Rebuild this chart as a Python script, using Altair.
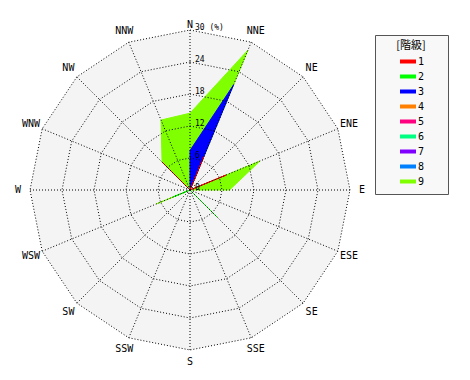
import altair as alt
import pandas as pd

# ---- data -------------------------------------------------------------
directions = ["N", "NNE", "NE", "ENE", "E", "ESE", "SE", "SSE",
              "S", "SSW", "SW", "WSW", "W", "WNW", "NW", "NNW"]
classes = ["1", "2", "3", "4", "5", "6", "7", "8", "9"]
colors = ["#ff0000", "#00ff00", "#0000ff", "#ff8000", "#ff0080",
          "#00ff80", "#8000ff", "#0080ff", "#80ff00"]

#            N    NNE  NE  ENE   E   ESE  SE  SSE  S  SSW  SW  WSW  W  WNW  NW   NNW
class1 = [0.0, 6.8, 0, 7.3, 0.0, 0, 0.0, 0, 0, 0, 0, 0.0, 0, 0, 7.4, 0.0]
class2 = [0.0, 0.0, 0, 0.0, 0.0, 0, 7.2, 0, 0, 0, 0, 3.4, 0, 0, 0.0, 0.0]
class3 = [7.4, 21.3, 0, 0.0, 0.0, 0, 0.0, 0, 0, 0, 0, 0.0, 0, 0, 0.0, 0.0]
class4 = [0.0] * 16
class5 = [0.0] * 16
class6 = [0.0] * 16
class7 = [0.0] * 16
class8 = [0.0] * 16
class9 = [14.4, 28.4, 0, 14.2, 7.4, 0, 7.2, 0, 0, 0, 0, 6.8, 0, 0, 7.4, 14.2]
series = [class1, class2, class3, class4, class5, class6, class7, class8, class9]

rings = [6, 12, 18, 24, 30]
ring_values = [0, 6, 12, 18, 24, 30]
ring_labels = ["0", "6", "12", "18", "24", "30 (%)"]
label_radius = 32.25

# ---- tables -----------------------------------------------------------
rows = []
for c, vals in zip(classes, series):
    for i, v in enumerate(vals):
        rows.append({"cls": c, "idx": i, "v": v})
poly_df = pd.DataFrame(rows)

ring_df = pd.DataFrame([{"r": r, "idx": i} for r in rings for i in range(16)])
outer_df = pd.DataFrame([{"r": 30, "idx": i} for i in range(16)])
spoke_df = pd.DataFrame([{"idx": i, "r": 30, "zero": 0} for i in range(16)])
dir_df = pd.DataFrame([{"idx": i, "name": d, "r": label_radius}
                       for i, d in enumerate(directions)])
rl_df = pd.DataFrame({"r": ring_values, "label": ring_labels, "zero": 0})

xs = alt.Scale(domain=[-35.625, 52.5], nice=False, zero=False)
ys = alt.Scale(domain=[-35.625, 35.625], nice=False, zero=False)

def polar(chart, field):
    return chart.transform_calculate(
        ang="datum.idx * PI / 8"
    ).transform_calculate(
        px=f"datum.{field} * sin(datum.ang)",
        py=f"datum.{field} * cos(datum.ang)",
    )

X = alt.X("px:Q", scale=xs, axis=None)
Y = alt.Y("py:Q", scale=ys, axis=None)

legend = alt.Legend(
    title="\u200b\u3000\u2002[階級]\u2002\u3000\u200b",
    orient="none", legendX=375, legendY=35,
    symbolType="stroke", symbolStrokeWidth=4, symbolSize=256,
    clipHeight=15,
    labelFont="DejaVu Sans Mono", labelFontSize=10, labelOffset=0,
    titleFont="Noto Sans CJK JP", titleFontSize=11, titleFontWeight="normal",
    titleAnchor="middle", titleAlign="center", titlePadding=3,
    padding=5, rowPadding=0, fillColor="#f8f8f8", strokeColor="#555555",
)
color = alt.Color("cls:N", scale=alt.Scale(domain=classes, range=colors),
                  legend=legend)

layers = []
# background disc
layers.append(polar(alt.Chart(outer_df), "r").mark_line(
    interpolate="linear-closed", fill="#f4f4f4", strokeOpacity=0
).encode(x=X, y=Y, order="idx:Q"))

# class polygons, class 9 at the bottom, class 1 on top
for c, col in reversed(list(zip(classes, colors))):
    layers.append(
        polar(alt.Chart(poly_df).transform_filter(alt.datum.cls == c), "v")
        .mark_line(interpolate="linear-closed", fill=col, strokeWidth=1)
        .encode(x=X, y=Y, order="idx:Q", color=color)
    )

# ring grid
layers.append(polar(alt.Chart(ring_df), "r").mark_line(
    interpolate="linear-closed", stroke="black", strokeWidth=1,
    strokeDash=[1, 2]
).encode(x=X, y=Y, order="idx:Q", detail="r:Q"))

# spokes
layers.append(polar(alt.Chart(spoke_df), "r").mark_rule(
    stroke="black", strokeWidth=1, strokeDash=[1, 2]
).encode(x=alt.X("zero:Q", scale=xs, axis=None),
         y=alt.Y("zero:Q", scale=ys, axis=None),
         x2="px:Q", y2="py:Q"))

# direction labels
layers.append(polar(alt.Chart(dir_df).transform_filter(alt.datum.idx != 0), "r")
              .mark_text(font="DejaVu Sans Mono", fontSize=10, color="black",
                         align="center", baseline="middle")
              .encode(x=X, y=Y, text="name:N"))
layers.append(polar(alt.Chart(dir_df).transform_filter(alt.datum.idx == 0), "r")
              .mark_text(font="DejaVu Sans Mono", fontSize=10, color="black",
                         align="center", baseline="middle", dy=7)
              .encode(x=X, y=Y, text="name:N"))

# ring value labels
layers.append(alt.Chart(rl_df).mark_text(
    font="DejaVu Sans Mono", fontSize=8, color="black",
    align="left", baseline="alphabetic", dx=5
).encode(x=alt.X("zero:Q", scale=xs, axis=None),
         y=alt.Y("r:Q", scale=ys, axis=None), text="label:N"))

chart = alt.layer(*layers).properties(
    width=470, height=380,
    autosize=alt.AutoSizeParams(type="none"),
    padding=0, background="white",
).configure_view(stroke=None)

chart.save("out.html", embed_options={"renderer": "svg", "actions": False})
